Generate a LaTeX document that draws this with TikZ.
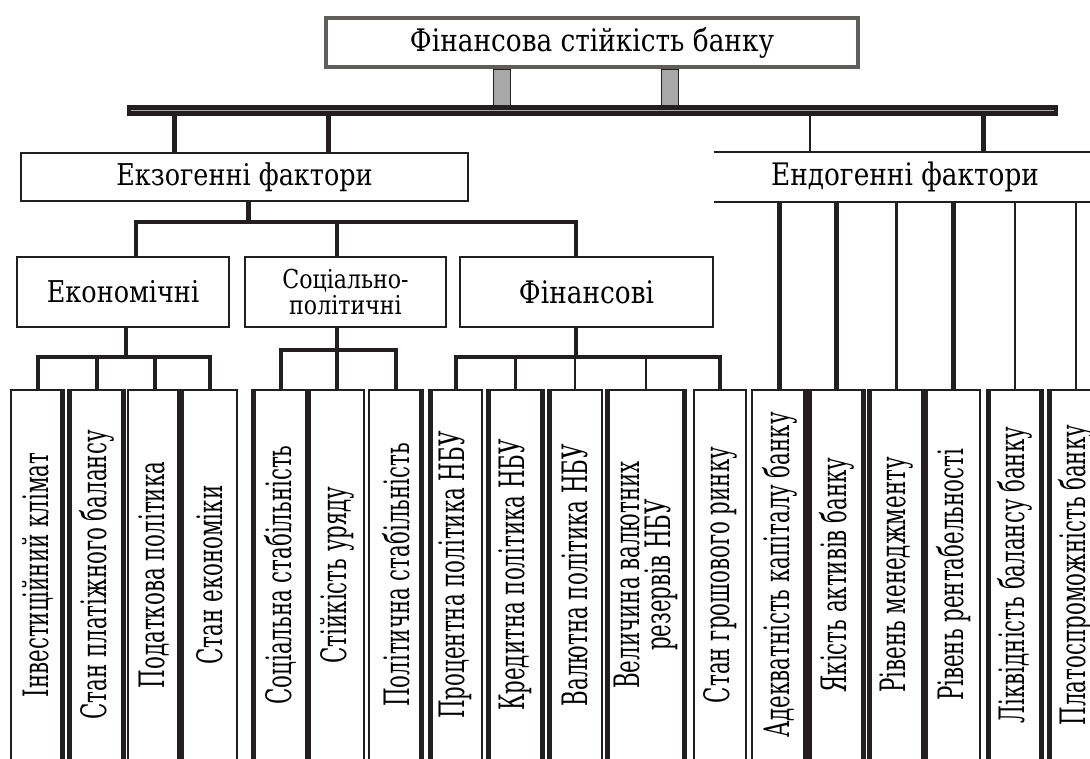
\documentclass[tikz,border=0pt]{standalone}
\usepackage{fontspec}
\setmainfont{DejaVu Serif}[FakeStretch=0.85]
\newfontfamily\narrowf[FakeStretch=0.61]{DejaVu Serif}
\definecolor{ink}{HTML}{231F20}
\definecolor{frame}{HTML}{5F5C5B}
\definecolor{leg}{HTML}{A8A8A8}
\begin{document}
\begin{tikzpicture}[x=1pt,y=-1pt,line join=miter,
	box/.style={draw=ink,line width=2.2pt,fill=white,inner sep=0pt},
	conn/.style={draw=ink,line width=4pt},
	vtext/.style={rotate=90,align=center,inner sep=0pt,font=\narrowf\fontsize{35}{31}\selectfont}]
	\useasboundingbox (0,0) rectangle (1090,758);
	\clip (0,0) rectangle (1090,758);
	\node[box,draw=frame,line width=4pt,minimum width=532,minimum height=49,font=\fontsize{31}{36}\selectfont] (root) at (592,42.5) {Фінансова стійкість банку};
	\node[box,line width=2pt,minimum width=447,minimum height=48,font=\fontsize{30}{36}\selectfont] (ekzo) at (244.5,177) {Екзогенні фактори};
	\node[inner sep=0pt,minimum width=382,minimum height=50,font=\fontsize{31}{36}\selectfont] (endo) at (905,177) {Ендогенні фактори};
	\draw[ink,line width=2pt] (endo.north west)--(endo.north east) (endo.south west)--(endo.south east);
	\node[box,minimum width=212,minimum height=70,font=\fontsize{30}{36}\selectfont] (econ) at (123,292) {Економічні};
	\node[box,minimum width=201,minimum height=70,align=center,font=\fontsize{26}{26}\selectfont] (socpol) at (345.5,292) {Соціально-\\політичні};
	\node[box,minimum width=253,minimum height=70,font=\fontsize{31}{36}\selectfont] (fin) at (586.5,292) {Фінансові};
	\foreach \n/\xl/\xr/\lw/\rw/\txt in {1/11/64/1.5/4.3/Інвестиційний клімат,2/68/125/4.3/4.3/Стан платіжного балансу,3/128/181/1.5/4.3/Податкова політика,4/183/237/1.5/1.5/Стан економіки,5/252/309/4.3/4.3/Соціальна стабільність,6/310/364/1.5/1.5/Стійкість уряду,7/369/423/1.5/4.3/Політична стабільність,8/429/482/4.3/1.5/Процентна політика НБУ,9/487/544/4.3/4.3/Кредитна політика НБУ,10/548/602/4.3/1.5/Валютна політика НБУ,11/606/686/4.3/4.3/Величина валютних\\резервів НБУ,12/694/746/1.5/1.5/Стан грошового ринку,13/752/807/1.5/4.3/Адекватність капіталу банку,14/808/865/4.3/4.3/Якість активів банку,15/868/925/4.3/4.3/Рівень менеджменту,16/927/980/1.5/1.5/Рівень рентабельності,17/987/1043/4.3/4.3/Ліквідність балансу банку,18/1048/1104/4.3/1.5/Платоспроможність банку}{
		\node[inner sep=0pt,minimum width={\xr-\xl},minimum height=370] (b\n) at ({(\xl+\xr)/2},575) {};
		\draw[ink,line width=1.5pt] (b\n.south west)|-(b\n.north east)--(b\n.south east);
		\draw[ink,line width=\lw] ([xshift=\lw/2]b\n.north west)--([xshift=\lw/2]b\n.south west);
		\draw[ink,line width=\rw] ([xshift=-\rw/2]b\n.north east)--([xshift=-\rw/2]b\n.south east);
		\node[vtext] at (b\n) {\txt};
	}
	\coordinate (barL) at (127,110.5);
	\coordinate (barR) at (1058,110.5);
	\foreach \a/\b in {-99/-82,69/86}
		\filldraw[fill=leg,draw=ink,line width=1pt] ([xshift=\a]root.south) rectangle ([xshift=\b]root.south|-barL);
	\draw[ink,line width=11pt] (barL)--(barR);
	\draw[leg,line width=1.5pt] ([xshift=4]barL)--([xshift=-4]barR);
	\foreach \s in {-70.5,83.5} \draw[conn,line width=5pt] ([xshift=\s]ekzo.north)--([xshift=\s]ekzo.north|-barL);
	\foreach \s/\w in {-95/2.6,78/5} \draw[conn,line width=\w] ([xshift=\s]endo.north)--([xshift=\s]endo.north|-barL);
	\draw[conn,line width=5pt] ([xshift=3.5]ekzo.south)--++(0,20) coordinate (ekj);
	\draw[conn] ([xshift=13]econ.north)|-(ekj)-|([xshift=-10.5]fin.north);
	\draw[conn] ([xshift=-8.5]socpol.north)--([xshift=-8.5]socpol.north|-ekj);
	\draw[conn] ([xshift=3]econ.south)--++(0,29) coordinate (ecj);
	\foreach \n in {1,...,4} \draw[conn] (b\n.north)|-(ecj);
	\draw[conn] ([xshift=-8.5]socpol.south)--++(0,22) coordinate (spj);
	\foreach \n in {5,6,7} \draw[conn] (b\n.north)|-(spj);
	\draw[conn,line width=3.4pt] ([xshift=-10.5]fin.south)--++(0,29) coordinate (fnj);
	\foreach \n/\w in {8/4,9/2.7,10/2.7,11/2.7,12/3.3} \draw[conn,line width=\w] (b\n.north)|-(fnj);
	\foreach \n/\w in {13/4.5,14/4.5,15/2.5,16/4.5,17/2.5,18/2.5} \draw[conn,line width=\w] (b\n.north)--(b\n.north|-endo.south);
\end{tikzpicture}
\end{document}
